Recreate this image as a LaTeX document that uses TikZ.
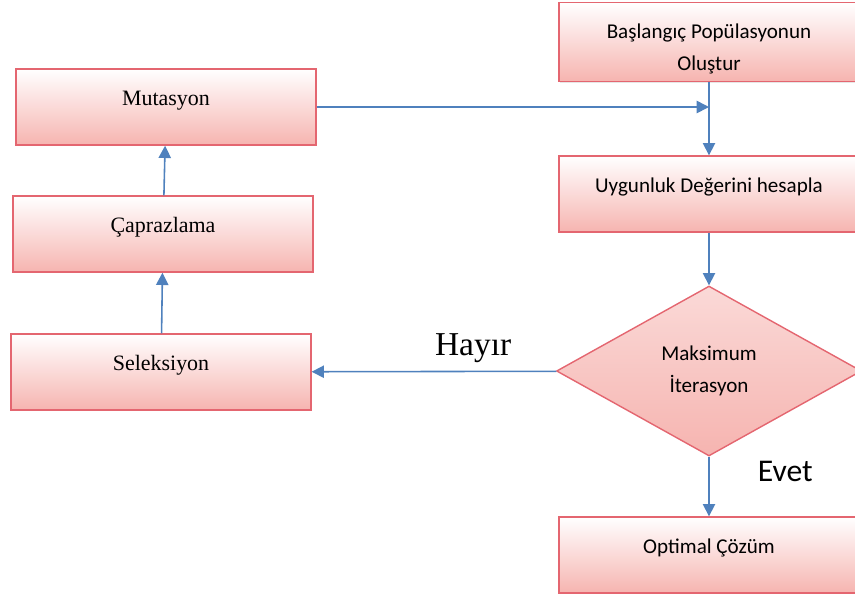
\documentclass[tikz,border=0pt]{standalone}
\usepackage{fontspec}
\setmainfont{Liberation Serif}
\newfontfamily\calibri{Carlito}
\usetikzlibrary{shapes.geometric,arrows.meta,shadows}
\definecolor{boxline}{RGB}{228,102,112}
\definecolor{boxfill}{RGB}{246,180,176}
\definecolor{flowblue}{RGB}{79,129,189}

\begin{document}
\begin{tikzpicture}[
            x=0.02cm, y=-0.02cm,
            step box/.style={rectangle, draw=boxline, line width=0.8pt, top color=white, bottom color=boxfill, minimum width=6cm, minimum height=1.52cm, align=center, drop shadow={opacity=0.2, shadow xshift=0.8pt, shadow yshift=-0.8pt}},
            raised/.style={text height=9pt, text depth=11pt},
            left box/.style={step box, raised, font=\fontsize{12.5}{14}\selectfont},
            right box/.style={step box, font=\calibri\fontsize{12}{18}\selectfont},
            decision/.style={diamond, draw=boxline, line width=0.8pt, top color=boxfill!50, bottom color=boxfill, minimum width=6.1cm, minimum height=3.4cm, inner sep=0pt, align=center, font=\calibri\fontsize{12}{18}\selectfont},
            arrow/.style={-{Triangle[length=7pt,width=7pt]}, draw=flowblue, line width=0.9pt}
        ]
            \clip (0,0) rectangle (855,600);
            \useasboundingbox (0,0) rectangle (855,600);

            \node[left box] (mut) at (166,107) {Mutasyon};
            \node[left box] (cross) at (163,234) {Çaprazlama};
            \node[left box] (sel) at (161,372) {Seleksiyon};

            \node[right box, text height=35pt, text depth=3pt] (init) at (709,42) {Başlangıç Popülasyonun\\Oluştur};
            \node[right box, raised] (fit) at (709,194) {Uygunluk Değerini hesapla};
            \node[decision] (maxit) at (709,371) {Maksimum\\İterasyon};
            \node[right box, raised] (opt) at (709,555) {Optimal Çözüm};

            \coordinate (join) at (mut.east -| init.south);

            \draw[arrow] (init) -- (fit);
            \draw[arrow] (mut) -- (join);
            \draw[arrow] (fit) -- (maxit);
            \draw[arrow] (maxit) -- node[pos=0.34, above=1pt, font=\fontsize{19}{22}\selectfont] (no) {Hayır} (sel);
            \draw[arrow] (maxit) -- node[pos=0.25, right=24pt, font=\calibri\fontsize{18}{22}\selectfont] (yes) {Evet} (opt);
            \draw[arrow] (sel) -- (cross);
            \draw[arrow] (cross) -- (mut);
        \end{tikzpicture}
\end{document}
